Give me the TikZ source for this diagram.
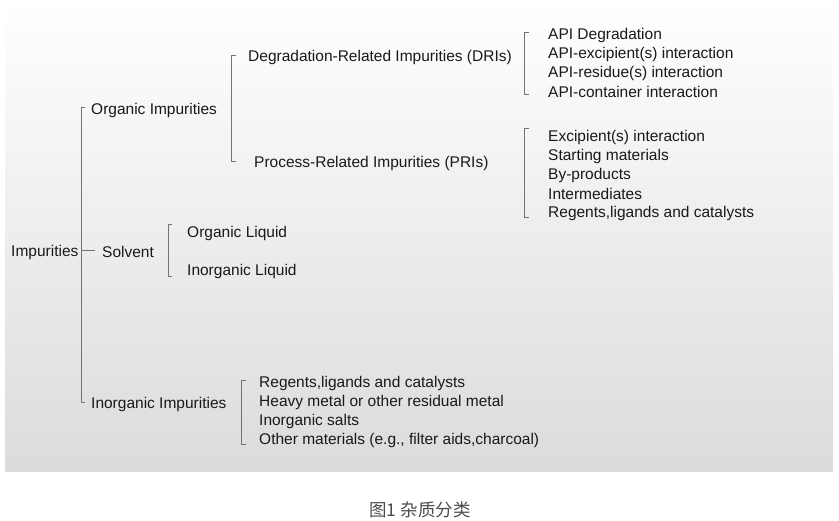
\documentclass[tikz,border=0pt]{standalone}
\usepackage{fontspec}
\setmainfont{Liberation Sans}
\newfontfamily\cjkf{Noto Sans CJK SC}
\begin{document}
\begin{tikzpicture}[x=1pt,y=-1pt,
  t/.style={anchor=west,inner sep=0pt,font=\fontsize{15.5}{17}\selectfont,text=black!90,yshift=-2pt},
  br/.style={draw=black!55,line width=0.8pt}]
\useasboundingbox (0,0) rectangle (839,521);
\shade[top color=white,bottom color=black!14] (5,0) rectangle (833,472);
\node[t] (imp) at (11,250) {Impurities};
\node[t] (sol) at (102,250) {Solvent};
\node[t] (org) at (91,108) {Organic Impurities};
\node[t] (inorg) at (91,402) {Inorganic Impurities};
\node[t] (dri) at (248,55) {Degradation-Related Impurities (DRIs)};
\node[t] (pri) at (254,161) {Process-Related Impurities (PRIs)};
\node[t] (ol) at (187,231) {Organic Liquid};
\node[t] (il) at (187,269) {Inorganic Liquid};
\foreach \s [count=\i] in {API Degradation,API-excipient(s) interaction,API-residue(s) interaction,API-container interaction}
  \node[t] (a\i) at (548,15+18.7*\i) {\s};
\foreach \s [count=\i] in {Excipient(s) interaction,Starting materials,By-products,Intermediates,{Regents,ligands and catalysts}}
  \node[t] (p\i) at (548,116+19*\i) {\s};
\foreach \s [count=\i] in {{Regents,ligands and catalysts},Heavy metal or other residual metal,Inorganic salts,{Other materials (e.g., filter aids,charcoal)}}
  \node[t] (n\i) at (259,363+18.8*\i) {\s};
\node[font=\cjkf\fontsize{17.5}{19}\selectfont,text=black!70] (cap) at (420,510) {图1 杂质分类};
% brackets
\coordinate (d1) at (82,250);
\coordinate (d2) at (95,250);
\draw[br] (85,107) -- (81,107) -- (81,402) -- (85,402);
\draw[br] (d1) -- (d2);
\draw[br] (236,55) -- (231,55) -- (231,161) -- (236,161);
\draw[br] (172,224) -- (168,224) -- (168,276) -- (172,276);
\draw[br] (529,32) -- (524,32) -- (524,94) -- (529,94);
\draw[br] (529,128) -- (524,128) -- (524,217) -- (529,217);
\draw[br] (246,380) -- (241,380) -- (241,444) -- (246,444);
\end{tikzpicture}
\end{document}
